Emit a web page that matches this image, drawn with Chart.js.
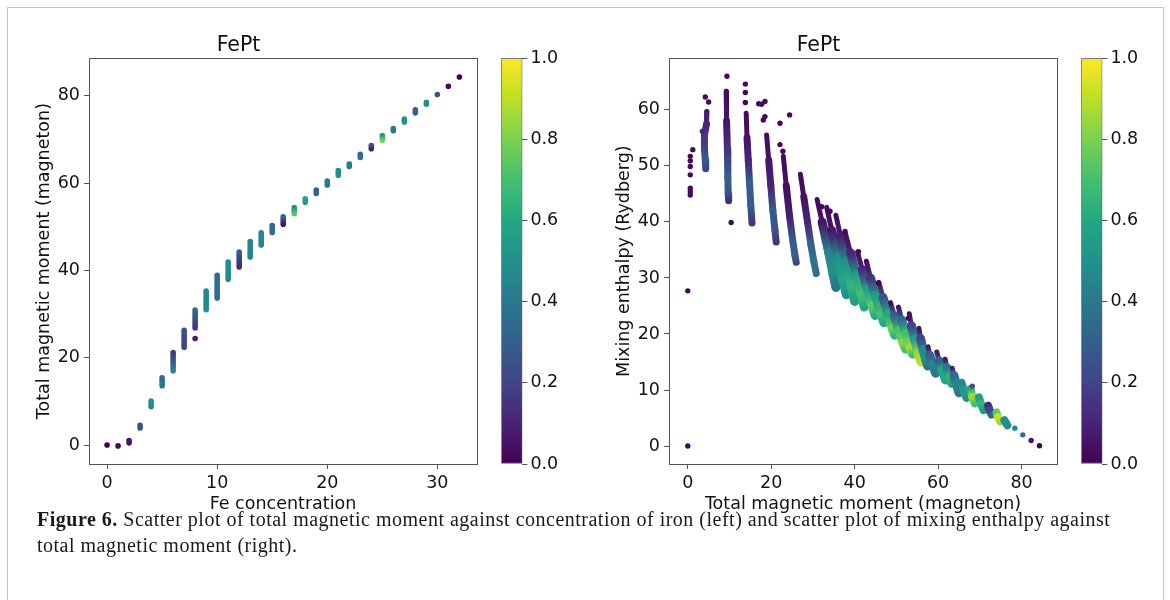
<!DOCTYPE html>
<html>
<head>
<meta charset="utf-8">
<script src="https://cdn.jsdelivr.net/npm/chart.js@4.4.1/dist/chart.umd.min.js"></script>
<style>
  body { margin: 0; background: #fff; width: 1170px; height: 600px; overflow: hidden; position: relative; }
  #frame { position: absolute; left: 7px; top: 7px; width: 1155px; height: 640px; border: 1px solid #c4c4c4; }
  canvas { position: absolute; top: 0; }
  #caption { position: absolute; left: 37px; top: 506px; font-family: 'Liberation Serif', serif; font-size: 20px; letter-spacing: 0.5px; line-height: 26px; color: #1a1a1a; white-space: nowrap; }
</style>
</head>
<body>
<div id="frame"></div>
<canvas id="fe" width="495" height="520" style="left:0px"></canvas>
<canvas id="feBar" width="70" height="520" style="left:495px"></canvas>
<canvas id="mix" width="495" height="520" style="left:580px"></canvas>
<canvas id="mixBar" width="70" height="520" style="left:1075px"></canvas>
<div id="caption"><b>Figure 6.</b> Scatter plot of total magnetic moment against concentration of iron (left) and scatter plot of mixing enthalpy against<br>total magnetic moment (right).</div>
<script>
// ---- left panel: one stack of points per Fe count (top / bottom of stack, colour value at each end)
const feConc     = [2, 3, 4, 5, 6, 7, 8, 9, 10, 11, 12, 13, 14, 15, 16, 17, 18, 19, 20, 21, 22, 23, 24, 25, 26, 27, 28, 29];
const momentTop  = [1.0, 4.5, 10.1, 15.4, 21.2, 26.3, 30.9, 35.3, 38.9, 41.9, 44.2, 46.6, 48.6, 50.3, 52.3, 54.4, 56.4, 58.4, 60.5, 62.9, 64.4, 66.6, 68.6, 70.9, 72.5, 74.7, 76.8, 78.5];
const momentBot  = [0.5, 3.9, 8.8, 13.6, 17.0, 22.4, 26.8, 31.0, 33.7, 38.0, 40.8, 43.1, 45.8, 48.7, 50.6, 53.0, 55.6, 57.6, 59.6, 61.8, 63.8, 65.9, 67.9, 69.8, 72.0, 74.0, 76.1, 78.1];
const colourTop  = [0.05, 0.25, 0.50, 0.35, 0.15, 0.25, 0.35, 0.45, 0.35, 0.50, 0.30, 0.45, 0.45, 0.35, 0.35, 0.50, 0.60, 0.30, 0.40, 0.50, 0.40, 0.35, 0.25, 0.55, 0.40, 0.50, 0.30, 0.50];
const colourBot  = [0.05, 0.25, 0.45, 0.40, 0.45, 0.20, 0.15, 0.50, 0.35, 0.45, 0.12, 0.45, 0.45, 0.35, 0.05, 0.75, 0.55, 0.30, 0.40, 0.50, 0.40, 0.35, 0.08, 0.80, 0.40, 0.50, 0.30, 0.50];
// single points [Fe, moment, colour]
const feDots = [[0, 0.0, 0.0], [1, -0.2, 0.02], [8, 24.4, 0.08], [30, 80.3, 0.25], [31, 82.2, 0.02], [32, 84.3, 0.0]];

// ---- right panel: streaks of points, each listed top to bottom as [moment, enthalpy, colour]
const earlyStreaks = [
  [[4.6, 59.7, 0.08], [4.5, 57.5, 0.1], [4.0, 55.5, 0.15], [4.0, 53.0, 0.2], [4.2, 51.0, 0.28], [4.3, 49.5, 0.2]],
  [[9.2, 63.3, 0.03], [9.3, 58.0, 0.06], [9.5, 53.0, 0.15], [9.6, 48.0, 0.3], [9.7, 45.0, 0.25], [9.8, 43.8, 0.12]],
  [[14.0, 59.4, 0.03], [14.2, 55.0, 0.05], [14.5, 51.0, 0.1], [14.8, 47.0, 0.28], [15.1, 43.0, 0.3], [15.4, 39.8, 0.15]],
  [[18.9, 55.5, 0.03], [19.4, 51.0, 0.05], [19.9, 46.5, 0.1], [20.4, 42.0, 0.28], [20.9, 38.5, 0.25], [21.2, 36.4, 0.15]],
  [[22.9, 51.7, 0.03], [23.6, 46.5, 0.04], [24.4, 41.0, 0.08], [25.1, 37.0, 0.28], [25.7, 34.0, 0.3], [26.0, 32.8, 0.2]],
  [[27.0, 48.5, 0.03], [27.8, 44.5, 0.04], [28.7, 40.0, 0.1], [29.5, 36.0, 0.3], [30.2, 33.0, 0.38], [30.8, 30.8, 0.35]]
];
const bandStreaks = [
  [[31.0, 44.0, 0.03], [32.2, 40.0, 0.06], [33.8, 34.5, 0.45], [34.8, 30.8, 0.5], [35.5, 28.3, 0.38]],
  [[33.3, 42.6, 0.03], [34.5, 38.5, 0.06], [36.0, 33.5, 0.5], [37.2, 29.5, 0.6], [38.0, 27.0, 0.5]],
  [[35.5, 41.2, 0.03], [36.6, 37.5, 0.08], [38.0, 33.0, 0.5], [39.2, 28.5, 0.65], [40.0, 25.8, 0.55]],
  [[37.8, 37.9, 0.03], [39.0, 34.5, 0.1], [40.4, 30.5, 0.55], [41.6, 27.0, 0.7], [42.3, 24.8, 0.6]],
  [[40.7, 34.6, 0.03], [41.8, 31.5, 0.12], [43.0, 28.0, 0.55], [44.2, 25.0, 0.75], [44.9, 23.3, 0.62]],
  [[42.8, 33.0, 0.03], [43.8, 30.0, 0.15], [45.0, 26.8, 0.55], [46.3, 23.5, 0.7], [47.0, 22.0, 0.6]],
  [[45.8, 29.2, 0.04], [46.8, 26.5, 0.25], [48.0, 23.5, 0.6], [49.0, 21.0, 0.78], [49.6, 19.8, 0.65]],
  [[48.6, 25.6, 0.04], [49.5, 23.3, 0.3], [50.6, 20.6, 0.7], [51.6, 18.4, 0.82], [52.2, 17.3, 0.7]],
  [[50.5, 24.8, 0.05], [51.3, 22.5, 0.35], [52.3, 20.0, 0.7], [53.3, 17.5, 0.85], [53.9, 16.4, 0.7]],
  [[53.1, 23.6, 0.04], [53.6, 21.5, 0.2], [54.4, 19.0, 0.55], [55.2, 16.5, 0.85], [55.9, 15.0, 0.9]],
  [[55.4, 21.0, 0.04], [55.8, 19.2, 0.2], [56.4, 17.2, 0.45], [57.0, 15.5, 0.5], [57.5, 14.3, 0.35]],
  [[57.6, 17.7, 0.05], [58.0, 16.2, 0.3], [58.7, 14.5, 0.45], [59.4, 13.0, 0.4]],
  [[59.7, 16.8, 0.05], [60.2, 15.2, 0.3], [61.0, 13.5, 0.6], [61.8, 11.8, 0.6]],
  [[61.7, 15.5, 0.05], [62.1, 14.0, 0.4], [62.8, 12.2, 0.65], [63.3, 11.2, 0.55]],
  [[63.4, 13.9, 0.08], [63.8, 12.6, 0.35], [64.4, 11.0, 0.45], [65.0, 9.5, 0.4]]
];
const tailStreaks = [
  [[65.6, 11.3, 0.45], [66.2, 9.8, 0.55], [66.8, 8.6, 0.5]],
  [[67.8, 10.2, 0.6], [68.2, 8.8, 0.85], [68.8, 7.6, 0.7]],
  [[69.8, 8.7, 0.55], [70.3, 7.5, 0.65], [70.9, 6.4, 0.55]],
  [[72.0, 7.2, 0.12], [72.4, 6.3, 0.2], [72.8, 5.6, 0.35]],
  [[74.0, 6.0, 0.75], [74.4, 5.1, 0.92], [74.9, 4.4, 0.85]],
  [[75.9, 4.6, 0.5], [76.6, 3.7, 0.48]]
];
// loose points [moment, enthalpy, colour]
const mixDots = [
  [0.0, 0.0, 0.02], [0.0, 27.7, 0.02],
  [1.2, 52.9, 0.02], [0.6, 51.7, 0.02], [0.6, 50.9, 0.02], [0.6, 49.9, 0.02], [0.6, 48.4, 0.02],
  [0.6, 46.0, 0.02], [0.6, 45.4, 0.02], [0.6, 44.8, 0.02],
  [4.2, 62.3, 0.03], [5.0, 61.4, 0.03], [3.5, 56.2, 0.12],
  [9.4, 66.0, 0.02], [10.4, 39.9, 0.03],
  [13.8, 64.6, 0.02], [13.8, 63.1, 0.02], [13.8, 61.3, 0.02], [17.0, 61.1, 0.02], [17.7, 61.0, 0.02], [18.5, 61.5, 0.02],
  [18.5, 58.8, 0.02], [18.1, 58.2, 0.02], [22.1, 57.6, 0.02], [24.4, 59.1, 0.02],
  [22.1, 53.8, 0.02], [22.8, 52.6, 0.02],
  [32.1, 42.7, 0.02], [34.1, 41.9, 0.02], [37.7, 38.3, 0.02], [40.9, 34.7, 0.02], [45.7, 29.1, 0.02],
  [52.9, 22.8, 0.03], [68.2, 10.7, 0.25],
  [78.4, 3.2, 0.45], [80.3, 2.0, 0.35], [82.3, 1.0, 0.05], [84.3, 0.05, 0.0]
];
const colourRange = [0, 1];

// ---- styling
const axisGrey = '#555';
const ink = '#111';
const tickFont = { family: 'DejaVu Sans', size: 17.5 };
const titleFont = { family: 'DejaVu Sans', size: 20.5, weight: 'normal' };
const viridisStops = ['#440154', '#482475', '#414487', '#355f8d', '#2a788e', '#21918c',
                      '#22a884', '#44bf70', '#7ad151', '#bddf26', '#fde725'];

function hexRgb(h) {
  return [parseInt(h.slice(1, 3), 16), parseInt(h.slice(3, 5), 16), parseInt(h.slice(5, 7), 16)];
}
function viridis(v) {
  v = Math.max(0, Math.min(1, v));
  const f = v * 10, i = Math.min(9, Math.floor(f)), t = f - i;
  const a = hexRgb(viridisStops[i]), b = hexRgb(viridisStops[i + 1]);
  const c = a.map((x, k) => Math.round(x + (b[k] - x) * t));
  return 'rgb(' + c.join(',') + ')';
}

function segColour(ctx) {
  const ds = ctx.chart.data.datasets[ctx.datasetIndex];
  const c0 = ds.data[ctx.p0DataIndex].c, c1 = ds.data[ctx.p1DataIndex].c;
  if (c0 === c1) return viridis(c0);
  const g = ctx.chart.ctx.createLinearGradient(ctx.p0.x, ctx.p0.y, ctx.p1.x, ctx.p1.y);
  g.addColorStop(0, viridis(c0));
  g.addColorStop(1, viridis(c1));
  return g;
}

// streak tips are sparse points, so the first segment is drawn thinner
function streakSet(points, width, tip, order) {
  return {
    data: points.map(p => ({ x: p[0], y: p[1], c: p[2] })),
    showLine: true,
    borderWidth: width,
    borderCapStyle: 'round',
    borderJoinStyle: 'round',
    pointRadius: 0,
    order: order,
    segment: {
      borderColor: segColour,
      borderWidth: ctx => (ctx.p0DataIndex === 0 && points.length > 2) ? tip : width
    }
  };
}

function dotSet(points, radius, order) {
  return {
    data: points.map(p => ({ x: p[0], y: p[1], c: p[2] })),
    showLine: false,
    pointRadius: radius,
    pointBorderWidth: 0,
    pointBackgroundColor: points.map(p => viridis(p[2])),
    order: order
  };
}

const framePlugin = {
  id: 'frame',
  afterDatasetsDraw(chart) {
    const a = chart.chartArea, c = chart.ctx;
    c.save();
    c.strokeStyle = axisGrey;
    c.lineWidth = 1;
    c.strokeRect(Math.round(a.left) + 0.5, Math.round(a.top) + 0.5,
                 Math.round(a.right - a.left), Math.round(a.bottom - a.top));
    c.restore();
  }
};

function axis(opts) {
  return {
    type: 'linear',
    min: opts.min,
    max: opts.max,
    ticks: { stepSize: opts.step, includeBounds: false, font: tickFont, color: ink, padding: 4, maxRotation: 0,
             callback: v => String(v) },
    grid: { drawOnChartArea: false, drawTicks: true, tickLength: 5, color: axisGrey },
    border: { display: false },
    title: { display: true, text: opts.title, font: tickFont, color: ink, padding: opts.titlePad },
    afterFit: s => { if (s.isHorizontal()) s.height = 56; else s.width = 89; }
  };
}

function panel(id, datasets, xo, yo) {
  return new Chart(document.getElementById(id), {
    type: 'scatter',
    data: { datasets: datasets },
    plugins: [framePlugin],
    options: {
      responsive: false,
      animation: false,
      layout: { padding: { left: 0, right: 18, top: 0, bottom: 0 } },
      plugins: {
        legend: { display: false },
        tooltip: { enabled: false },
        title: { display: true, text: 'FePt', font: titleFont, color: ink, padding: { top: 33.5, bottom: 0.2 } }
      },
      scales: { x: axis(xo), y: axis(yo) }
    }
  });
}

function colourBar(id) {
  return new Chart(document.getElementById(id), {
    type: 'bar',
    data: {
      labels: [''],
      datasets: [{
        data: [colourRange],
        backgroundColor: ctx => {
          const a = ctx.chart.chartArea;
          if (!a) return viridisStops[0];
          const g = ctx.chart.ctx.createLinearGradient(0, a.bottom, 0, a.top);
          viridisStops.forEach((s, i) => g.addColorStop(i / 10, s));
          return g;
        },
        borderColor: axisGrey,
        borderWidth: 1,
        borderSkipped: false,
        barPercentage: 1,
        categoryPercentage: 1
      }]
    },
    options: {
      responsive: false,
      animation: false,
      layout: { padding: { left: 6.3, top: 58.3, bottom: 56 } },
      plugins: { legend: { display: false }, tooltip: { enabled: false } },
      scales: {
        x: { display: false },
        y: {
          position: 'right', min: colourRange[0], max: colourRange[1],
          ticks: { stepSize: 0.2, font: tickFont, color: ink, padding: 3, callback: v => v.toFixed(1) },
          grid: { drawOnChartArea: false, drawTicks: true, tickLength: 5, color: axisGrey },
          border: { display: false },
          afterFit: s => { s.width = 42.6; }
        }
      }
    }
  });
}

// left panel datasets
const feSets = [dotSet(feDots, 2.8, 0)];
feConc.forEach((x, i) => {
  feSets.push(streakSet([[x, momentTop[i], colourTop[i]], [x, momentBot[i], colourBot[i]]], 5.6, 5.6, 1));
});

// right panel datasets (later streaks on top of earlier ones)
const mixSets = [dotSet(mixDots, 2.7, -1000)];
let k = 0;
earlyStreaks.forEach(s => mixSets.push(streakSet(s, 7, 5, -(k++))));
bandStreaks.forEach(s => mixSets.push(streakSet(s, 9, 5, -(k++))));
tailStreaks.forEach(s => mixSets.push(streakSet(s, 8, 8, -(k++))));

panel('fe', feSets,
  { min: -1.64, max: 33.6, step: 10, title: 'Fe concentration', titlePad: { top: 0, bottom: 5.5 } },
  { min: -4.35, max: 88.6, step: 20, title: 'Total magnetic moment (magneton)', titlePad: { top: 33.5, bottom: 0 } });
panel('mix', mixSets,
  { min: -4.5, max: 88.5, step: 20, title: 'Total magnetic moment (magneton)', titlePad: { top: 0, bottom: 5.5 } },
  { min: -3.2, max: 69.2, step: 10, title: 'Mixing enthalpy (Rydberg)', titlePad: { top: 33.5, bottom: 0 } });
colourBar('feBar');
colourBar('mixBar');
</script>
</body>
</html>
